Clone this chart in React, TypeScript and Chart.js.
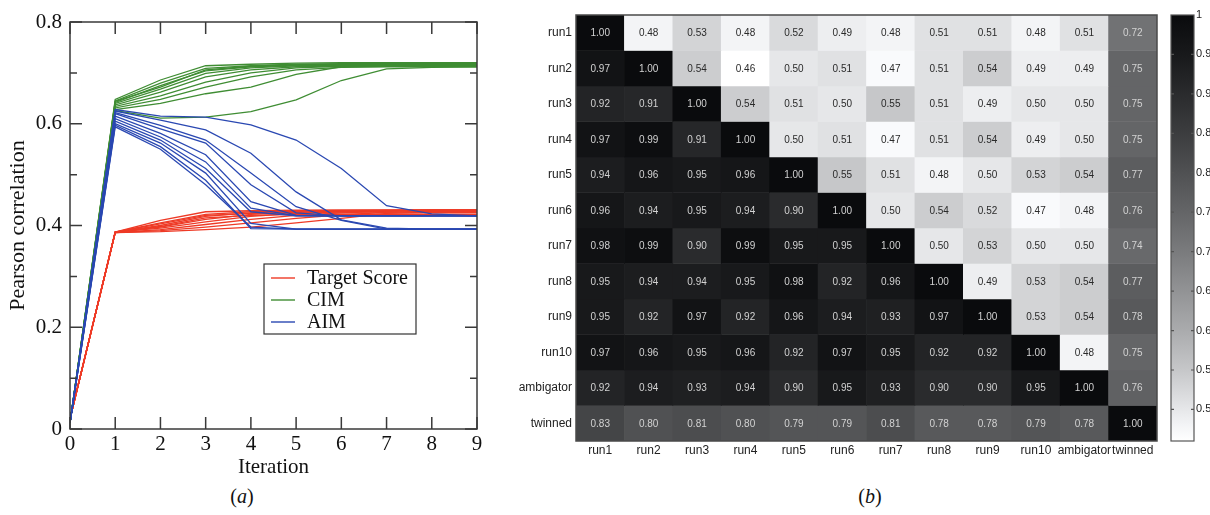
import React, { useEffect, useRef } from "react";
import { Chart, registerables } from "chart.js";

Chart.register(...registerables);

// ---------------- Panel (a): line chart data ----------------
const ITERATIONS = [0, 1, 2, 3, 4, 5, 6, 7, 8, 9];

const TARGET_SCORE_RUNS = [
  [0.02, 0.387, 0.41, 0.427, 0.429, 0.43, 0.43, 0.43, 0.43, 0.43],
  [0.02, 0.387, 0.405, 0.422, 0.427, 0.429, 0.43, 0.43, 0.43, 0.43],
  [0.02, 0.387, 0.4, 0.418, 0.425, 0.428, 0.429, 0.43, 0.43, 0.43],
  [0.02, 0.387, 0.397, 0.412, 0.422, 0.426, 0.428, 0.429, 0.43, 0.43],
  [0.02, 0.387, 0.395, 0.407, 0.418, 0.424, 0.427, 0.429, 0.43, 0.43],
  [0.02, 0.386, 0.392, 0.402, 0.412, 0.42, 0.425, 0.428, 0.43, 0.43],
  [0.02, 0.386, 0.39, 0.397, 0.405, 0.414, 0.421, 0.426, 0.428, 0.428],
  [0.02, 0.386, 0.388, 0.392, 0.397, 0.405, 0.414, 0.424, 0.426, 0.426],
  [0.02, 0.387, 0.403, 0.42, 0.424, 0.425, 0.425, 0.425, 0.425, 0.425],
  [0.02, 0.387, 0.398, 0.415, 0.42, 0.422, 0.422, 0.422, 0.422, 0.422],
];

const CIM_RUNS = [
  [0.012, 0.648, 0.686, 0.714, 0.717, 0.719, 0.72, 0.72, 0.72, 0.72],
  [0.012, 0.645, 0.68, 0.709, 0.714, 0.717, 0.718, 0.718, 0.718, 0.718],
  [0.012, 0.642, 0.675, 0.704, 0.712, 0.715, 0.716, 0.716, 0.716, 0.716],
  [0.012, 0.64, 0.668, 0.699, 0.71, 0.714, 0.715, 0.715, 0.715, 0.715],
  [0.012, 0.637, 0.662, 0.692, 0.706, 0.712, 0.714, 0.714, 0.714, 0.714],
  [0.012, 0.634, 0.655, 0.682, 0.7, 0.71, 0.713, 0.713, 0.713, 0.713],
  [0.012, 0.631, 0.648, 0.672, 0.692, 0.706, 0.711, 0.712, 0.712, 0.712],
  [0.012, 0.628, 0.64, 0.659, 0.672, 0.697, 0.712, 0.713, 0.713, 0.713],
  [0.012, 0.626, 0.611, 0.613, 0.624, 0.647, 0.685, 0.708, 0.711, 0.712],
  [0.012, 0.644, 0.672, 0.706, 0.713, 0.716, 0.717, 0.717, 0.717, 0.717],
];

const AIM_RUNS = [
  [0.012, 0.628, 0.615, 0.613, 0.598, 0.568, 0.512, 0.439, 0.423, 0.419],
  [0.012, 0.625, 0.607, 0.588, 0.542, 0.466, 0.411, 0.395, 0.393, 0.393],
  [0.012, 0.622, 0.597, 0.568, 0.503, 0.437, 0.41, 0.393, 0.393, 0.393],
  [0.012, 0.62, 0.59, 0.562, 0.48, 0.425, 0.419, 0.419, 0.419, 0.419],
  [0.012, 0.615, 0.581, 0.539, 0.447, 0.42, 0.419, 0.419, 0.419, 0.419],
  [0.012, 0.61, 0.574, 0.525, 0.434, 0.419, 0.419, 0.419, 0.419, 0.419],
  [0.012, 0.605, 0.568, 0.512, 0.427, 0.419, 0.419, 0.419, 0.419, 0.419],
  [0.012, 0.6, 0.562, 0.503, 0.404, 0.393, 0.393, 0.393, 0.393, 0.393],
  [0.012, 0.597, 0.555, 0.489, 0.394, 0.393, 0.393, 0.393, 0.393, 0.393],
  [0.012, 0.594, 0.55, 0.48, 0.397, 0.393, 0.393, 0.393, 0.393, 0.393],
];

const Y_MAJOR_TICKS = [0, 0.2, 0.4, 0.6, 0.8];
const Y_MINOR_TICKS = [0.1, 0.3, 0.5, 0.7];
const LEGEND_LABELS = ["Target Score", "CIM", "AIM"];

const RED = "#ee3a26";
const GREEN = "#3f8d33";
const BLUE = "#2a48b2";

// ---------------- Panel (b): heatmap data ----------------
const HEAT_LABELS = [
  "run1", "run2", "run3", "run4", "run5", "run6",
  "run7", "run8", "run9", "run10", "ambigator", "twinned",
];

const ROW_RUN1 = [1.0, 0.48, 0.53, 0.48, 0.52, 0.49, 0.48, 0.51, 0.51, 0.48, 0.51, 0.72];
const ROW_RUN2 = [0.97, 1.0, 0.54, 0.46, 0.5, 0.51, 0.47, 0.51, 0.54, 0.49, 0.49, 0.75];
const ROW_RUN3 = [0.92, 0.91, 1.0, 0.54, 0.51, 0.5, 0.55, 0.51, 0.49, 0.5, 0.5, 0.75];
const ROW_RUN4 = [0.97, 0.99, 0.91, 1.0, 0.5, 0.51, 0.47, 0.51, 0.54, 0.49, 0.5, 0.75];
const ROW_RUN5 = [0.94, 0.96, 0.95, 0.96, 1.0, 0.55, 0.51, 0.48, 0.5, 0.53, 0.54, 0.77];
const ROW_RUN6 = [0.96, 0.94, 0.95, 0.94, 0.9, 1.0, 0.5, 0.54, 0.52, 0.47, 0.48, 0.76];
const ROW_RUN7 = [0.98, 0.99, 0.9, 0.99, 0.95, 0.95, 1.0, 0.5, 0.53, 0.5, 0.5, 0.74];
const ROW_RUN8 = [0.95, 0.94, 0.94, 0.95, 0.98, 0.92, 0.96, 1.0, 0.49, 0.53, 0.54, 0.77];
const ROW_RUN9 = [0.95, 0.92, 0.97, 0.92, 0.96, 0.94, 0.93, 0.97, 1.0, 0.53, 0.54, 0.78];
const ROW_RUN10 = [0.97, 0.96, 0.95, 0.96, 0.92, 0.97, 0.95, 0.92, 0.92, 1.0, 0.48, 0.75];
const ROW_AMBIGATOR = [0.92, 0.94, 0.93, 0.94, 0.9, 0.95, 0.93, 0.9, 0.9, 0.95, 1.0, 0.76];
const ROW_TWINNED = [0.83, 0.8, 0.81, 0.8, 0.79, 0.79, 0.81, 0.78, 0.78, 0.79, 0.78, 1.0];

const CORRELATION = [
  ROW_RUN1, ROW_RUN2, ROW_RUN3, ROW_RUN4, ROW_RUN5, ROW_RUN6,
  ROW_RUN7, ROW_RUN8, ROW_RUN9, ROW_RUN10, ROW_AMBIGATOR, ROW_TWINNED,
];

const COLORBAR_MIN = 0.46;
const COLORBAR_MAX = 1;
const COLORBAR_TICKS = [0.5, 0.55, 0.6, 0.65, 0.7, 0.75, 0.8, 0.85, 0.9, 0.95, 1];
const COLORBAR_LABELS = ["0.5", "0.55", "0.6", "0.65", "0.7", "0.75", "0.8", "0.85", "0.9", "0.95", "1"];

// gray-level colormap (value -> intensity)
const GRAY_STOPS: [number, number][] = [
  [0.46, 255], [0.48, 243], [0.5, 230], [0.55, 198], [0.6, 170], [0.7, 122],
  [0.75, 100], [0.8, 80], [0.85, 60], [0.9, 42], [0.95, 24], [1.0, 10],
];

function grayFor(v: number): string {
  let g = GRAY_STOPS[0][1];
  if (v >= GRAY_STOPS[GRAY_STOPS.length - 1][0]) g = GRAY_STOPS[GRAY_STOPS.length - 1][1];
  else {
    for (let i = 0; i < GRAY_STOPS.length - 1; i++) {
      const [v0, g0] = GRAY_STOPS[i];
      const [v1, g1] = GRAY_STOPS[i + 1];
      if (v >= v0 && v <= v1) {
        g = g0 + ((v - v0) / (v1 - v0)) * (g1 - g0);
        break;
      }
    }
  }
  const r = Math.round(g);
  const b = Math.min(255, Math.round(g + 3));
  return `rgb(${r},${Math.min(255, r + 1)},${b})`;
}

const SERIF = '"Liberation Serif", "Times New Roman", serif';
const SANS = '"Liberation Sans", Arial, sans-serif';

export default function App() {
  const lineRef = useRef<HTMLCanvasElement>(null);
  const heatRef = useRef<HTMLCanvasElement>(null);

  useEffect(() => {
    const mk = (runs: number[][], color: string) =>
      runs.map((run) => ({
        data: run.map((v, i) => ({ x: ITERATIONS[i], y: v })),
        borderColor: color,
        borderWidth: 1.3,
        pointRadius: 0,
        tension: 0,
        fill: false,
      }));

    const framePlugin = {
      id: "frameTicksLegend",
      afterDraw(chart: any) {
        const { ctx, chartArea: a, scales } = chart;
        const x = scales.x;
        const y = scales.y;
        ctx.save();
        ctx.strokeStyle = "#3a3a3a";
        ctx.lineWidth = 1.5;
        ctx.strokeRect(a.left, a.top, a.right - a.left, a.bottom - a.top);
        ctx.beginPath();
        ITERATIONS.forEach((v) => {
          const px = x.getPixelForValue(v);
          ctx.moveTo(px, a.bottom);
          ctx.lineTo(px, a.bottom - 12);
          ctx.moveTo(px, a.top);
          ctx.lineTo(px, a.top + 12);
        });
        Y_MAJOR_TICKS.forEach((v) => {
          const py = y.getPixelForValue(v);
          ctx.moveTo(a.left, py);
          ctx.lineTo(a.left + 12, py);
          ctx.moveTo(a.right, py);
          ctx.lineTo(a.right - 12, py);
        });
        Y_MINOR_TICKS.forEach((v) => {
          const py = y.getPixelForValue(v);
          ctx.moveTo(a.left, py);
          ctx.lineTo(a.left + 7, py);
          ctx.moveTo(a.right, py);
          ctx.lineTo(a.right - 7, py);
        });
        ctx.stroke();

        // legend box
        const lx = 264, ly = 264, lw = 152, lh = 70;
        ctx.fillStyle = "#ffffff";
        ctx.fillRect(lx, ly, lw, lh);
        ctx.strokeStyle = "#333";
        ctx.lineWidth = 1.2;
        ctx.strokeRect(lx, ly, lw, lh);
        const colors = [RED, GREEN, BLUE];
        const rowsY = [278, 300, 322];
        ctx.font = `20px ${SERIF}`;
        ctx.textAlign = "left";
        ctx.textBaseline = "middle";
        LEGEND_LABELS.forEach((lab, i) => {
          ctx.strokeStyle = colors[i];
          ctx.lineWidth = 1.4;
          ctx.beginPath();
          ctx.moveTo(271, rowsY[i]);
          ctx.lineTo(295, rowsY[i]);
          ctx.stroke();
          ctx.fillStyle = "#111";
          ctx.fillText(lab, 307, rowsY[i] + 1);
        });
        ctx.restore();
      },
    };

    const lineChart = new Chart(lineRef.current!, {
      type: "line",
      data: {
        datasets: [...mk(AIM_RUNS, BLUE), ...mk(CIM_RUNS, GREEN), ...mk(TARGET_SCORE_RUNS, RED)] as any,
      },
      options: {
        responsive: false,
        animation: false,
        events: [],
        layout: { padding: { top: 22, right: 23, left: 0, bottom: 0 } },
        plugins: { legend: { display: false }, tooltip: { enabled: false } },
        scales: {
          x: {
            type: "linear",
            min: 0,
            max: 9,
            grid: { display: false, drawTicks: false },
            border: { display: false },
            ticks: {
              stepSize: 1,
              autoSkip: false,
              maxRotation: 0,
              padding: 3,
              color: "#111",
              font: { family: SERIF, size: 21 },
            },
            title: {
              display: true,
              text: "Iteration",
              color: "#111",
              font: { family: SERIF, size: 21 },
              padding: { top: 0, bottom: 0 },
            },
            afterFit: (s: any) => {
              s.height = 51;
            },
          },
          y: {
            type: "linear",
            min: 0,
            max: 0.8,
            grid: { display: false, drawTicks: false },
            border: { display: false },
            afterBuildTicks: (axis: any) => {
              axis.ticks = Y_MAJOR_TICKS.map((v) => ({ value: v }));
            },
            ticks: {
              autoSkip: false,
              padding: 8,
              color: "#111",
              font: { family: SERIF, size: 21 },
              callback: (v: any) => String(Math.round(Number(v) * 10) / 10),
            },
            title: {
              display: true,
              text: "Pearson correlation",
              color: "#111",
              font: { family: SERIF, size: 22 },
              padding: { top: 5, bottom: 0 },
            },
            afterFit: (s: any) => {
              s.width = 70;
            },
          },
        },
      } as any,
      plugins: [framePlugin],
    });

    // ---------- heatmap ----------
    const heatDatasets = CORRELATION.map((row, r) => ({
      data: row.map(() => [r, r + 1]),
      backgroundColor: row.map((v) => grayFor(v)),
      borderWidth: 0,
      barPercentage: 1,
      categoryPercentage: 1,
      grouped: false,
    }));

    const CB_X0 = 671;
    const CB_X1 = 694;

    const cellPlugin = {
      id: "cellsAndColorbar",
      afterDatasetsDraw(chart: any) {
        const { ctx } = chart;
        ctx.save();
        ctx.font = `10px ${SANS}`;
        ctx.textAlign = "center";
        ctx.textBaseline = "middle";
        CORRELATION.forEach((row, r) => {
          const meta = chart.getDatasetMeta(r);
          meta.data.forEach((el: any, c: number) => {
            const v = row[c];
            const p = el.getProps(["x", "y", "base"], true);
            ctx.fillStyle = v >= 0.7 ? "#d2d2d2" : "#2a2a2a";
            ctx.fillText(v.toFixed(2), p.x, (p.y + p.base) / 2 + 0.5);
          });
        });
        ctx.restore();
      },
      afterDraw(chart: any) {
        const { ctx, chartArea: a, scales } = chart;
        const cb = scales.cb;
        ctx.save();
        // heatmap frame
        ctx.strokeStyle = "#4a4a4a";
        ctx.lineWidth = 1.5;
        ctx.strokeRect(a.left, a.top, a.right - a.left, a.bottom - a.top);
        // colorbar
        const yTop = cb.getPixelForValue(COLORBAR_MAX);
        const yBot = cb.getPixelForValue(COLORBAR_MIN);
        const grad = ctx.createLinearGradient(0, yBot, 0, yTop);
        GRAY_STOPS.forEach(([v]) => {
          const t = (v - COLORBAR_MIN) / (COLORBAR_MAX - COLORBAR_MIN);
          grad.addColorStop(Math.max(0, Math.min(1, t)), grayFor(v));
        });
        ctx.fillStyle = grad;
        ctx.fillRect(CB_X0, yTop, CB_X1 - CB_X0, yBot - yTop);
        ctx.strokeStyle = "#555";
        ctx.lineWidth = 1.2;
        ctx.strokeRect(CB_X0, yTop, CB_X1 - CB_X0, yBot - yTop);
        ctx.beginPath();
        COLORBAR_TICKS.forEach((v) => {
          if (v >= COLORBAR_MAX) return;
          const py = cb.getPixelForValue(v);
          ctx.moveTo(CB_X0, py);
          ctx.lineTo(CB_X0 + 3, py);
          ctx.moveTo(CB_X1, py);
          ctx.lineTo(CB_X1 - 3, py);
        });
        ctx.stroke();
        ctx.restore();
      },
    };

    const heatChart = new Chart(heatRef.current!, {
      type: "bar",
      data: { labels: HEAT_LABELS, datasets: heatDatasets as any },
      options: {
        responsive: false,
        animation: false,
        events: [],
        layout: { padding: { top: 15, right: 0, left: 0, bottom: 0 } },
        plugins: { legend: { display: false }, tooltip: { enabled: false } },
        scales: {
          x: {
            type: "category",
            grid: { display: false, drawTicks: false },
            border: { display: false },
            ticks: {
              autoSkip: false,
              maxRotation: 0,
              minRotation: 0,
              padding: 2,
              color: "#222",
              font: { family: SANS, size: 12 },
            },
            afterFit: (s: any) => {
              s.height = 39;
              s.paddingLeft = 0;
              s.paddingRight = 0;
            },
          },
          y: {
            type: "linear",
            min: 0,
            max: HEAT_LABELS.length,
            reverse: true,
            grid: { display: false, drawTicks: false },
            border: { display: false },
            afterBuildTicks: (axis: any) => {
              axis.ticks = HEAT_LABELS.map((_, i) => ({ value: i + 0.5 }));
            },
            ticks: {
              autoSkip: false,
              padding: 4,
              color: "#222",
              font: { family: SANS, size: 12 },
              callback: (v: any) => HEAT_LABELS[Math.floor(Number(v))],
            },
            afterFit: (s: any) => {
              s.width = 76;
              s.paddingTop = 0;
              s.paddingBottom = 0;
            },
          },
          cb: {
            type: "linear",
            position: "right",
            min: COLORBAR_MIN,
            max: COLORBAR_MAX,
            grid: { display: false, drawTicks: false },
            border: { display: false },
            afterBuildTicks: (axis: any) => {
              axis.ticks = COLORBAR_TICKS.map((v) => ({ value: v }));
            },
            ticks: {
              autoSkip: false,
              padding: 39,
              color: "#222",
              font: { family: SANS, size: 11 },
              callback: (_v: any, i: number) => COLORBAR_LABELS[i],
            },
            afterFit: (s: any) => {
              s.width = 53;
              s.paddingTop = 0;
              s.paddingBottom = 0;
            },
          },
        },
      } as any,
      plugins: [cellPlugin],
    });

    return () => {
      lineChart.destroy();
      heatChart.destroy();
    };
  }, []);

  const captionStyle: React.CSSProperties = {
    position: "absolute",
    top: 484,
    width: 60,
    textAlign: "center",
    fontFamily: SERIF,
    fontSize: 20,
    lineHeight: "24px",
    color: "#111",
  };

  return (
    <div
      style={{
        position: "fixed",
        left: 0,
        top: 0,
        width: 1210,
        height: 515,
        background: "#ffffff",
        overflow: "hidden",
      }}
    >
      <canvas
        ref={lineRef}
        width={500}
        height={480}
        style={{ position: "absolute", left: 0, top: 0, width: 500, height: 480 }}
      />
      <canvas
        ref={heatRef}
        width={710}
        height={480}
        style={{ position: "absolute", left: 500, top: 0, width: 710, height: 480 }}
      />
      <div style={{ ...captionStyle, left: 212 }}>
        (<i>a</i>)
      </div>
      <div style={{ ...captionStyle, left: 840 }}>
        (<i>b</i>)
      </div>
    </div>
  );
}
